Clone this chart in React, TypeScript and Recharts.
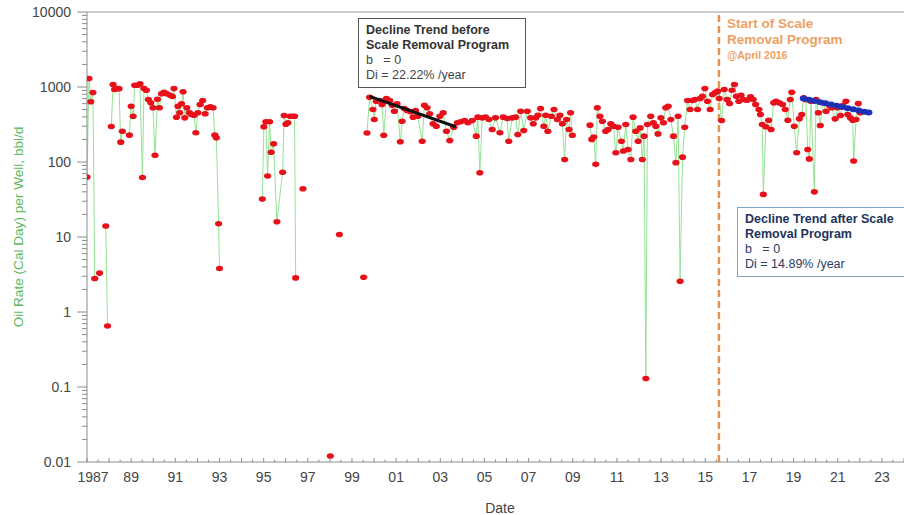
import { LineChart, Line, XAxis, YAxis, ReferenceLine } from "recharts";

const FONT = "'Liberation Sans', Arial, sans-serif";

// production history (decimal year, oil rate bbl/d); null = gap in the record
const dates = [
  1987.0, 1987.09, 1987.17, 1987.27, 1987.35, 1987.46, 1987.57, 1987.7, 1987.85, 1987.93, 1988.0,
  1988.1, 1988.18, 1988.25, 1988.37, 1988.45, 1988.53, 1988.6, 1988.92, 1989.0, 1989.09,
  1989.16, 1989.28, 1989.4, 1989.51, 1989.58, 1989.69, 1989.78, 1989.89, 1989.99, 1990.08,
  1990.19, 1990.28, 1990.37, 1990.49, 1990.61, 1990.76, 1990.87, 1990.94, 1991.05, 1991.12,
  1991.2, 1991.28, 1991.35, 1991.43, 1991.52, 1991.64, 1991.73, 1991.85, 1991.93, 1992.02,
  1992.12, 1992.24, 1992.35, 1992.46, 1992.58, 1992.71, 1992.79, 1992.86, 1992.96, 1993.0,
  1994.0,
  1994.94, 1995.01, 1995.1, 1995.18, 1995.27, 1995.34, 1995.45, 1995.6, 1995.86, 1995.93,
  1996.01, 1996.1, 1996.2, 1996.33, 1996.4, 1996.45, 1996.6, 1996.78, 1997.5, 1998.02,
  1998.2, 1998.43, 1999.0, 1999.53, 1999.6,
  1999.68, 1999.8, 1999.95, 2000.01, 2000.1, 2000.26, 2000.36, 2000.44, 2000.56, 2000.71,
  2000.82, 2000.92, 2001.04, 2001.19, 2001.27, 2001.37, 2001.5, 2001.65, 2001.77, 2001.88,
  2001.98, 2002.18, 2002.28, 2002.4, 2002.52, 2002.67, 2002.82, 2002.98, 2003.13, 2003.28,
  2003.43, 2003.61, 2003.77, 2003.92, 2004.1, 2004.25, 2004.45, 2004.63, 2004.7, 2004.79,
  2004.9, 2005.05, 2005.2, 2005.35, 2005.5, 2005.7, 2005.85, 2006.03, 2006.1, 2006.26,
  2006.41, 2006.51, 2006.64, 2006.78, 2006.94, 2007.09, 2007.21, 2007.32, 2007.42, 2007.54,
  2007.69, 2007.77, 2007.87, 2008.03, 2008.15, 2008.3, 2008.42, 2008.53, 2008.63, 2008.72,
  2008.83, 2008.9, 2008.98, 2009.4,
  2009.78, 2009.86, 2009.95, 2010.04, 2010.11, 2010.23, 2010.34, 2010.49, 2010.6, 2010.72,
  2010.84, 2010.95, 2011.05, 2011.2, 2011.29, 2011.4, 2011.5, 2011.63, 2011.73, 2011.85,
  2011.96, 2012.05, 2012.15, 2012.23, 2012.31, 2012.38, 2012.53, 2012.65, 2012.76, 2012.86,
  2012.99, 2013.11, 2013.21, 2013.32, 2013.44, 2013.56, 2013.67, 2013.77, 2013.86, 2013.97,
  2014.07, 2014.2, 2014.31, 2014.42, 2014.53, 2014.65, 2014.77, 2014.87, 2014.98, 2015.1,
  2015.22, 2015.33, 2015.44, 2015.56, 2015.63, 2015.74, 2015.86, 2015.99, 2016.1, 2016.21,
  2016.32, 2016.41, 2016.52, 2016.62, 2016.74, 2016.89, 2017.05, 2017.17, 2017.28, 2017.43,
  2017.5, 2017.58, 2017.63, 2017.74, 2017.87, 2017.98, 2018.1, 2018.2, 2018.35, 2018.5,
  2018.62, 2018.74, 2018.85, 2018.92, 2019.03, 2019.14, 2019.26, 2019.37, 2019.46, 2019.55,
  2019.64, 2019.71, 2019.79, 2019.94, 2020.02, 2020.12, 2020.21, 2020.32, 2020.47, 2020.62,
  2020.73, 2020.88, 2020.99, 2021.12, 2021.22, 2021.37, 2021.45, 2021.57, 2021.68, 2021.72,
  2021.83, 2021.93, 2022.02,
];

const oilRate = [
  63, 1300, 635, 845, 2.8, null, 3.3, null, 14, 0.65, null,
  297, 1080, 925, 955, 950, 184, 257, 228, 555, 408,
  1057, 1057, 1100, 62, 955, 905, 680, 615, 528, 123,
  688, 528, 812, 852, 812, 778, 748, 955, 395, 555,
  453, 597, 863, 388, 528, 453, 430, 420, 245, 453,
  585, 661, 440, 528, 545, 528, 228, 210, 15, 3.8,
  null,
  32, 295, 344, 65, 344, 135, 175, 16, 73, 417,
  318, 333, 407, 407, 407, 2.85, null, 44, null, 0.012,
  null, 10.8, null, 2.9, null,
  244, 731, 501, 369, 647, 661, 585, 227, 702, 661,
  572, 476, 597, 186, 350, 517, 486, 467, 396, 486,
  407, 189, 572, 528, 440, 323, 300, 407, 453, 257,
  193, 291, 333, 344, 358, 333, 358, 221, 396, 72,
  388, 396, 369, 271, 388, 245, 396, 380, 189, 388,
  396, 233, 476, 263, 476, 388, 323, 388, 421, 517,
  300, 421, 257, 407, 501, 369, 421, 323, 108, 369,
  271, 453, 227, null,
  310, 200, 215, 93, 528, 407, 350, 257, 271, 323,
  300, 133, 291, 189, 140, 316, 147, 108, 396, 257,
  189, 285, 108, 221, 0.13, 316, 407, 333, 300, 237,
  388, 333, 528, 555, 369, 221, 98, 407, 2.57, 116,
  291, 661, 501, 661, 680, 501, 702, 754, 955, 647,
  501, 794, 837, 880, 702, 358, 926, 681, 602, 906,
  1080, 754, 647, 778, 681, 666, 741, 681, 585, 501,
  430, 316, 37, 295, 360, 271, 615, 647, 615, 585,
  501, 360, 681, 852, 300, 133, 376, 430, 718, 681,
  147, 110, 647, 40, 681, 453, 307, 615, 476, 566,
  528, 376, 528, 417, 566, 647, 430, 388, 360, 103,
  369, 602, 453,
];

// decline fit before the program (Di = 22.22%/yr)
const trendBeforeDates = [1999.8, 2003.7];
const trendBeforeRate = [750, 295];

// decline fit after the program (Di = 14.89%/yr)
const trendAfterDates = [
  2019.45, 2019.7, 2019.95, 2020.2, 2020.45, 2020.7, 2020.95, 2021.2, 2021.45, 2021.7,
  2021.95, 2022.2, 2022.4,
];
const trendAfterRate = [700, 675, 650, 627, 605, 583, 562, 542, 522, 504, 486, 468, 456];

const programStart = 2015.62;

const xTicks: number[] = [];
for (let y = 1987; y <= 2024; y += 0.5) xTicks.push(y);

const yTicks: number[] = [];
[0.01, 0.1, 1, 10, 100, 1000].forEach((d) => {
  for (let k = 1; k <= 9; k++) yTicks.push(+(d * k).toPrecision(3));
});
yTicks.push(10000);

const majorY = [0.01, 0.1, 1, 10, 100, 1000, 10000];

const renderXTick = (p: any) => {
  const v = p.payload.value;
  const isInt = Math.abs(v - Math.round(v)) < 1e-6;
  const labeled = isInt && (Math.round(v) - 1987) % 2 === 0 && v <= 2023;
  const txt = v === 1987 ? "1987" : String(Math.round(v) % 100).padStart(2, "0");
  return (
    <g>
      <line x1={p.x} x2={p.x} y1={p.y} y2={p.y - (isInt ? 4 : 2.5)} stroke="#8c8c8c" />
      {labeled && (
        <text x={v === 1987 ? p.x + 6 : p.x} y={p.y + 20} textAnchor="middle" fill="#444" fontSize={14} fontFamily={FONT}>
          {txt}
        </text>
      )}
    </g>
  );
};

const renderYTick = (p: any) => {
  const v = p.payload.value;
  const major = majorY.some((m) => Math.abs(m - v) / m < 1e-6);
  return (
    <g>
      <line x1={p.x - (major ? 10 : 5)} x2={p.x} y1={p.y} y2={p.y} stroke="#8c8c8c" />
      {major && (
        <text x={p.x - 16} y={p.y + 5} textAnchor="end" fill="#444" fontSize={14} fontFamily={FONT}>
          {String(v)}
        </text>
      )}
    </g>
  );
};

const renderRedDot = (p: any) => {
  if (p.value == null || p.cy == null || isNaN(p.cy)) return <g key={`r${p.index}`} />;
  return <ellipse key={`r${p.index}`} cx={p.cx} cy={p.cy} rx={3.6} ry={2.8} fill="#e8101a" />;
};

const renderBlueDot = (p: any) => (
  <ellipse key={`b${p.index}`} cx={p.cx} cy={p.cy} rx={3.8} ry={3} fill="#1f33c4" />
);

const boxText = { position: "absolute" as const, whiteSpace: "pre" as const, lineHeight: "15px", fontSize: 12.5 };

export default function App() {
  const mainData = dates.map((t, i) => ({ t, v: oilRate[i] }));
  const beforeData = trendBeforeDates.map((t, i) => ({ t, v: trendBeforeRate[i] }));
  const afterData = trendAfterDates.map((t, i) => ({ t, v: trendAfterRate[i] }));
  const extra: any = { zIndex: 1000 };

  return (
    <div style={{ position: "absolute", left: 0, top: 0, width: 904, height: 515, background: "#fff", overflow: "hidden", fontFamily: FONT }}>
      <LineChart width={904} height={515} margin={{ top: 12, right: 0, bottom: 23, left: 0 }}>
        <XAxis
          type="number"
          dataKey="t"
          domain={[1987, 2024]}
          ticks={xTicks}
          interval={0}
          allowDataOverflow
          tick={renderXTick}
          tickLine={false}
          tickSize={0}
          tickMargin={0}
          height={30}
          axisLine={{ stroke: "#8c8c8c" }}
          label={() => (
            <text x={500} y={513} textAnchor="middle" fill="#444" fontSize={14} fontFamily={FONT}>
              Date
            </text>
          )}
        />
        <YAxis
          type="number"
          scale="log"
          domain={[0.01, 10000]}
          ticks={yTicks}
          interval={0}
          allowDataOverflow
          tick={renderYTick}
          tickLine={false}
          tickSize={0}
          tickMargin={0}
          width={87}
          axisLine={{ stroke: "#8c8c8c" }}
          label={() => (
            <text
              x={18}
              y={227}
              transform="rotate(-90, 18, 227)"
              textAnchor="middle"
              dominantBaseline="central"
              fill="#5cb85c"
              fontSize={13.6}
              fontFamily={FONT}
            >
              Oil Rate (Cal Day) per Well, bbl/d
            </text>
          )}
        />
        <ReferenceLine y={10000} stroke="#9a9a9a" />
        <ReferenceLine x={programStart} stroke="#e8914a" strokeWidth={2.5} strokeDasharray="7 4" />
        <Line
          data={mainData}
          dataKey="v"
          stroke="#93e393"
          strokeWidth={1}
          dot={renderRedDot}
          activeDot={false}
          connectNulls={false}
          isAnimationActive={false}
        />
        <Line data={beforeData} dataKey="v" stroke="#111" strokeWidth={3} dot={false} activeDot={false} isAnimationActive={false} {...extra} />
        <Line data={afterData} dataKey="v" stroke="#1c2fb0" strokeWidth={3} dot={renderBlueDot} activeDot={false} isAnimationActive={false} {...extra} />
      </LineChart>

      <div style={{ position: "absolute", left: 358, top: 18, width: 168, height: 70, boxSizing: "border-box", border: "1.5px solid #555", background: "#fff" }}>
        <div style={{ ...boxText, left: 7, top: 4, fontWeight: "bold", color: "#333" }}>Decline Trend before</div>
        <div style={{ ...boxText, left: 7, top: 19, fontWeight: "bold", color: "#333" }}>Scale Removal Program</div>
        <div style={{ ...boxText, left: 7, top: 34, color: "#444" }}>{"b   = 0"}</div>
        <div style={{ ...boxText, left: 7, top: 49, color: "#444" }}>Di = 22.22% /year</div>
      </div>

      <div style={{ position: "absolute", left: 727, top: 16, whiteSpace: "pre", fontWeight: "bold", color: "#ee9f63", fontSize: 13.5, lineHeight: "16.5px" }}>
        Start of Scale
      </div>
      <div style={{ position: "absolute", left: 727, top: 32, whiteSpace: "pre", fontWeight: "bold", color: "#ee9f63", fontSize: 13.5, lineHeight: "16.5px" }}>
        Removal Program
      </div>
      <div style={{ position: "absolute", left: 727, top: 48, whiteSpace: "pre", fontWeight: "bold", color: "#ee9f63", fontSize: 10.5, lineHeight: "14px" }}>
        @April 2016
      </div>

      <div style={{ position: "absolute", left: 737, top: 207, width: 200, height: 70, boxSizing: "border-box", border: "1.5px solid #7aa6cc", background: "#fff" }}>
        <div style={{ ...boxText, left: 7, top: 4, fontWeight: "bold", color: "#22335e" }}>Decline Trend after Scale</div>
        <div style={{ ...boxText, left: 7, top: 19, fontWeight: "bold", color: "#22335e" }}>Removal Program</div>
        <div style={{ ...boxText, left: 7, top: 34, color: "#2a3a66" }}>{"b   = 0"}</div>
        <div style={{ ...boxText, left: 7, top: 49, color: "#2a3a66" }}>Di = 14.89% /year</div>
      </div>
    </div>
  );
}
